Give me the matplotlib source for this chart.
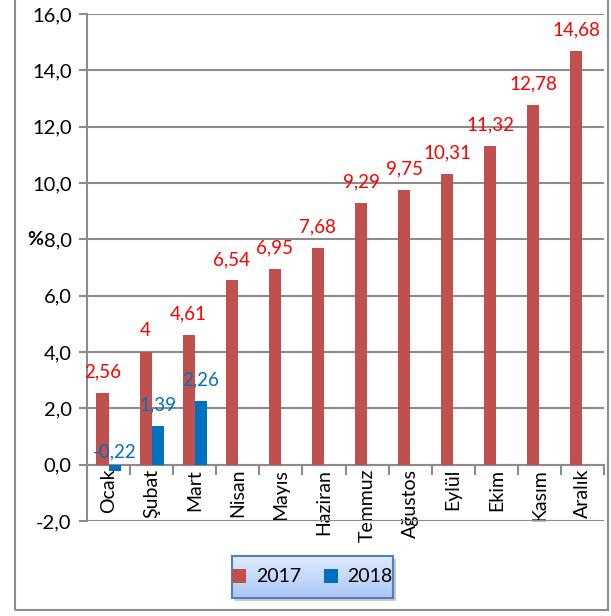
import matplotlib
matplotlib.use("Agg")
import matplotlib.pyplot as plt
import numpy as np
from matplotlib.patches import Rectangle
from matplotlib.colors import LinearSegmentedColormap

months = ["Ocak", "Şubat", "Mart", "Nisan", "Mayıs", "Haziran", "Temmuz",
          "Ağustos", "Eylül", "Ekim", "Kasım", "Aralık"]
v2017 = [2.56, 4.0, 4.61, 6.54, 6.95, 7.68, 9.29, 9.75, 10.31, 11.32, 12.78, 14.68]
lab2017 = ["2,56", "4", "4,61", "6,54", "6,95", "7,68", "9,29", "9,75", "10,31", "11,32", "12,78", "14,68"]
v2018 = [-0.22, 1.39, 2.26]
lab2018 = ["-0,22", "1,39", "2,26"]
yticks = [-2, 0, 2, 4, 6, 8, 10, 12, 14, 16]
ytick_labels = ["-2,0", "0,0", "2,0", "4,0", "6,0", "8,0", "10,0", "12,0", "14,0", "16,0"]

plt.rcParams['font.family'] = ['Lato', 'DejaVu Sans']

W, H = 611, 616
fig = plt.figure(figsize=(W/100, H/100), dpi=100)
ax = fig.add_axes([87/W, 1-521/H, (604-87)/W, (521-14)/H])

red = "#C0504D"
blue = "#0070C0"
x = np.arange(len(months))
bw = 0.28
ax.bar(x - bw/2, v2017, width=bw, color=red, label="2017", zorder=3)
ax.bar(x[:len(v2018)] + bw/2, v2018, width=bw, color=blue, label="2018", zorder=3)

for xi, v, t in zip(x, v2017, lab2017):
    ax.annotate(t, xy=(xi - bw/2, v), xytext=(0, 9), textcoords="offset points",
                ha="center", va="bottom", color="#FF0000", fontsize=13.5)
for xi, v, t in zip(x, v2018, lab2018):
    ax.annotate(t, xy=(xi + bw/2, max(v, 0)), xytext=(0, 3 if v < 0 else 9), textcoords="offset points",
                ha="center", va="bottom", color=blue, fontsize=13.5)

ax.set_xlim(-0.5, len(months) - 0.5)
ax.set_ylim(-2, 16)
ax.set_yticks(yticks)
ax.set_yticklabels(ytick_labels, fontsize=14.5)
ax.yaxis.grid(True, color="#8C8C8C", linewidth=1.5, zorder=0)
ax.tick_params(axis="y", length=6, width=1.5, color="#8C8C8C", pad=5)

for s in ["top", "right"]:
    ax.spines[s].set_visible(False)
ax.spines["left"].set_color("#8C8C8C")
ax.spines["left"].set_linewidth(1.5)
ax.spines["bottom"].set_position(("data", 0))
ax.spines["bottom"].set_color("#8C8C8C")
ax.spines["bottom"].set_linewidth(1.5)

ax.set_xticks(x)
ax.set_xticklabels(months, rotation=90, fontsize=14, va="top")
ax.tick_params(axis="x", length=0, pad=3)
ax.set_xticks(np.arange(-0.5, len(months), 1), minor=True)
ax.tick_params(axis="x", which="minor", length=7, width=1.5, color="#8C8C8C", direction="out")

ax.text(-0.085, 8, "%", transform=ax.get_yaxis_transform(), ha="right", va="center",
        fontsize=14, fontweight="bold")

# legend box with gradient
lx0, ly0, lw, lh = 232/W, 1-598/H, (393-232)/W, (598-556)/H
shadow = Rectangle((lx0+3/W, ly0-3/H), lw, lh, transform=fig.transFigure,
                   facecolor="#999999", edgecolor="none", alpha=0.5, zorder=0.5)
fig.add_artist(shadow)
gax = fig.add_axes([lx0, ly0, lw, lh])
gax.set_zorder(2)
grad = np.linspace(0, 1, 64).reshape(-1, 1)
cmap = LinearSegmentedColormap.from_list("g", ["#E0EBFD", "#A9C6F7"])
gax.imshow(grad, aspect="auto", cmap=cmap, extent=[0, 1, 0, 1], origin="upper")
gax.set_xticks([]); gax.set_yticks([])
for s in gax.spines.values():
    s.set_color("#4F81BD"); s.set_linewidth(1.5)
handles, labels = ax.get_legend_handles_labels()
gax.legend(handles, labels, loc="center", ncol=2, frameon=False,
           fontsize=14, handlelength=0.7, handleheight=0.7, columnspacing=1.2, handletextpad=0.5)

# outer frame
frame = Rectangle((15/W, 1-610/H), (608-15)/W, 620/H, transform=fig.transFigure,
                  facecolor="none", edgecolor="#8C8C8C", linewidth=1.5, clip_on=False, zorder=3)
fig.add_artist(frame)

fig.savefig("out.png", dpi=100)
